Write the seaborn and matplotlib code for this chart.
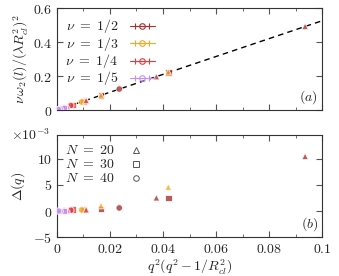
import numpy as np
import pandas as pd
import matplotlib
matplotlib.use('Agg')
import matplotlib.pyplot as plt
from matplotlib.lines import Line2D
from matplotlib.ticker import MultipleLocator, FuncFormatter
import seaborn as sns

# data
nu_labels = ['1/2', '1/3', '1/4', '1/5']
nu_colors = ['#a83232', '#f5a623', '#e8383d', '#c490f5']
n_labels = [20, 30, 40]
n_markers = ['^', 's', 'o']

pt_nu = ['1/2'] * 6 + ['1/3'] * 5 + ['1/4'] * 4 + ['1/5'] * 4
pt_N = [20, 20, 30, 40, 30, 40,
        20, 20, 30, 40, 30,
        20, 30, 40, 40,
        20, 30, 40, 40]
pt_x = [0.0936, 0.0375, 0.0420, 0.0235, 0.0166, 0.0105,
        0.0420, 0.0166, 0.0100, 0.0093, 0.0045,
        0.0110, 0.0061, 0.0052, 0.0028,
        0.0040, 0.0025, 0.0012, 0.0006]
pt_w = [0.492, 0.197, 0.220, 0.124, 0.087, 0.055,
        0.225, 0.089, 0.052, 0.048, 0.023,
        0.057, 0.031, 0.027, 0.014,
        0.020, 0.013, 0.006, 0.003]
pt_delta = [10.5, 2.55, 2.50, 0.60, 0.40, 0.15,
            4.6, 1.05, 0.25, 0.20, 0.10,
            0.25, 0.30, 0.15, 0.05,
            0.10, 0.0, -0.05, 0.0]

fit_x = [0.0, 0.1]
fit_y = [0.0, 0.525]

df = pd.DataFrame({'nu': pt_nu, 'N': pt_N, 'x': pt_x, 'w': pt_w, 'delta': pt_delta})

sns.set_style('ticks')
plt.rcParams['font.family'] = ['DejaVu Serif']
plt.rcParams['mathtext.fontset'] = 'cm'
plt.rcParams['font.size'] = 9

palette = dict(zip(nu_labels, nu_colors))
markers = dict(zip(n_labels, n_markers))

fig = plt.figure(figsize=(3.39, 2.76), dpi=100)
ax1 = fig.add_axes([0.168, 0.601, 0.782, 0.370])
ax2 = fig.add_axes([0.168, 0.141, 0.782, 0.370])

sns.lineplot(x=fit_x, y=fit_y, ax=ax1, color='black', linestyle=(0, (4, 3)), lw=1.0)
for ax, col in [(ax1, 'w'), (ax2, 'delta')]:
    sns.scatterplot(data=df, x='x', y=col, hue='nu', style='N', palette=palette,
                    markers=markers, s=22, alpha=0.8, linewidth=0.7,
                    ax=ax, legend=False, zorder=3)

mfmt = FuncFormatter(lambda v, p: '$%g$' % v if abs(v) > 1e-12 else '$0$')

for ax in (ax1, ax2):
    ax.set_xlim(0, 0.1)
    ax.xaxis.set_major_locator(MultipleLocator(0.02))
    ax.xaxis.set_minor_locator(MultipleLocator(0.01))
    ax.tick_params(which='both', direction='in', top=True, right=True,
                   labelsize=10, color='#555555')
    ax.tick_params(which='major', length=4)
    ax.tick_params(which='minor', length=2)
    ax.xaxis.set_major_formatter(mfmt)
    ax.yaxis.set_major_formatter(mfmt)
    for s in ax.spines.values():
        s.set_color('#333333')
        s.set_linewidth(0.8)

ax1.set_ylim(0, 0.6)
ax1.yaxis.set_major_locator(MultipleLocator(0.2))
ax1.tick_params(labelbottom=False)
ax1.set_xlabel('')
ax1.set_ylabel(r'$\nu\,\omega_2(l)/(\lambda R_{cl}^2)^2$', fontsize=10, labelpad=2)
ax1.text(0.985, 0.04, r'$(a)$', transform=ax1.transAxes, ha='right', va='bottom', fontsize=10)

ax2.set_ylim(-5, 14.6)
ax2.yaxis.set_major_locator(MultipleLocator(5))
ax2.set_ylabel(r'$\Delta(q)$', fontsize=10, labelpad=4)
ax2.set_xlabel(r'$q^2(q^2-1/R_{cl}^2)$', fontsize=10, labelpad=1)
ax2.text(0.985, 0.04, r'$(b)$', transform=ax2.transAxes, ha='right', va='bottom', fontsize=10)
ax2.text(-0.175, 1.0, r'$\times10^{-3}$', transform=ax2.transAxes, ha='left', va='center', fontsize=10)

# legend handles: horizontal error bars with open circles
h1 = []
for c in nu_colors:
    eb = ax1.errorbar([np.nan], [np.nan], xerr=[1.0], color=c, marker='o', mfc='none',
                      ms=4, lw=0.8, capsize=2, mew=0.8)
    h1.append(eb)
leg1 = ax1.legend(h1, [r'$\nu\ =\ %s$' % s for s in nu_labels], loc='upper left',
                  bbox_to_anchor=(0.0, 0.99), markerfirst=False, frameon=False,
                  fontsize=10, handlelength=1.8, handleheight=0.5, labelspacing=-0.05,
                  borderaxespad=0.2, handletextpad=0.8)

h2 = [Line2D([], [], color='#555555', marker=m, mfc='none', ms=4, lw=0, mew=0.7) for m in n_markers]
leg2 = ax2.legend(h2, [r'$N\ =\ %d$' % n for n in n_labels], loc='upper left',
                  markerfirst=False, frameon=False, fontsize=10, handlelength=1.8,
                  handleheight=0.5, labelspacing=0.0, borderaxespad=0.2, handletextpad=0.6)

fig.savefig('out.png', dpi=100)
